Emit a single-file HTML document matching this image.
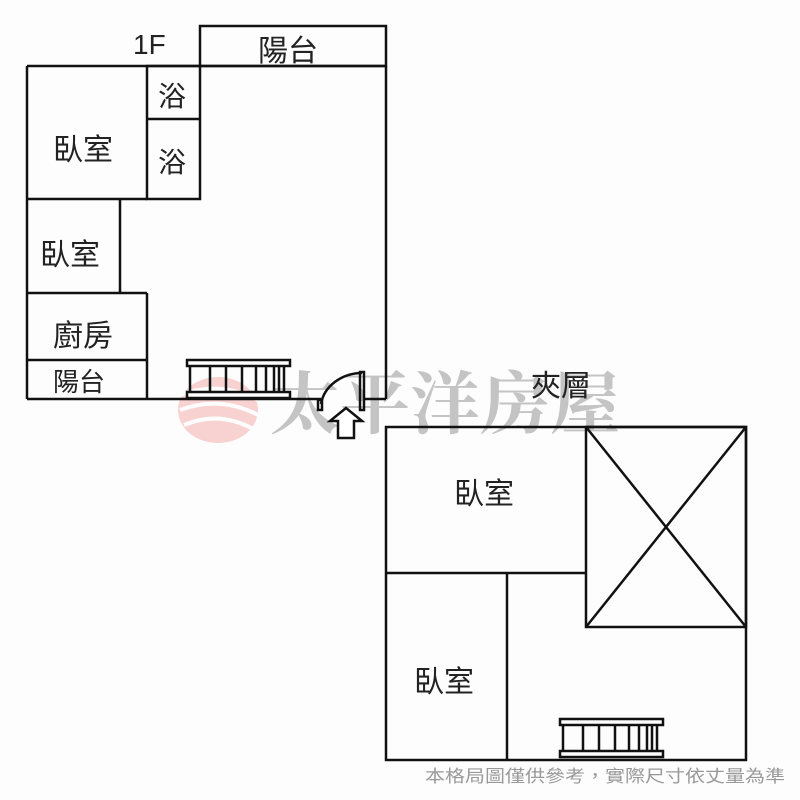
<!DOCTYPE html>
<html><head><meta charset="utf-8"><style>
html,body{margin:0;padding:0;background:#fdfdfd;}
svg{display:block;}
text{font-family:"Liberation Sans","Noto Sans CJK TC",sans-serif;fill:#222;}
</style></head><body>
<svg width="800" height="800" viewBox="0 0 800 800" xmlns="http://www.w3.org/2000/svg">
<rect width="800" height="800" fill="#fdfdfd"/>
<defs>
<g id="st">
<rect x="0" y="0" width="103" height="6" fill="#fff" stroke="#111" stroke-width="2.5"/>
<rect x="0" y="32" width="103" height="6" fill="#fff" stroke="#111" stroke-width="2.5"/>
<g stroke="#111" stroke-width="2.5">
<line x1="3" y1="6" x2="3" y2="32"/><line x1="23" y1="6" x2="23" y2="32"/><line x1="39" y1="6" x2="39" y2="32"/><line x1="55" y1="6" x2="55" y2="32"/><line x1="69" y1="6" x2="69" y2="32"/><line x1="79" y1="6" x2="79" y2="32"/><line x1="87" y1="6" x2="87" y2="32"/><line x1="92" y1="6" x2="92" y2="32"/><line x1="97" y1="6" x2="97" y2="32"/>
</g>
</g>
</defs>
<g opacity="0.35">
<ellipse cx="218" cy="410" rx="40" ry="33" fill="#f08080"/>
<path d="M180 395 Q220 380 258 400 M180 410 Q220 395 258 415 M184 425 Q220 410 255 430" stroke="#fff" stroke-width="4" fill="none"/>
</g>
<text x="270" y="428" font-size="68" font-weight="bold" textLength="350" lengthAdjust="spacingAndGlyphs" style="fill:#c4c4c4;font-family:'Noto Serif CJK SC',serif">太平洋房屋</text>
<g fill="none" stroke="#111" stroke-width="2.5">
<rect x="200" y="26" width="186" height="40"/>
<line x1="27" y1="66" x2="386" y2="66"/>
<line x1="386" y1="66" x2="386" y2="399"/>
<line x1="386" y1="399" x2="365" y2="399"/>
<line x1="27" y1="66" x2="27" y2="399"/>
<line x1="27" y1="399" x2="321" y2="399"/>
<rect x="147" y="66" width="53" height="133"/>
<line x1="147" y1="119" x2="200" y2="119"/>
<line x1="27" y1="199" x2="147" y2="199"/>
<line x1="120" y1="199" x2="120" y2="293"/>
<line x1="27" y1="293" x2="147" y2="293"/>
<line x1="147" y1="293" x2="147" y2="399"/>
<line x1="27" y1="360" x2="147" y2="360"/>
<rect x="360" y="372" width="4" height="38"/>
<path d="M362 373 A42 36 0 0 0 321 404"/>
<rect x="318" y="400" width="4" height="10"/>
<rect x="386" y="427" width="360" height="333"/>
<rect x="586" y="427" width="160" height="200"/>
<line x1="586" y1="427" x2="746" y2="627"/>
<line x1="746" y1="427" x2="586" y2="627"/>
<line x1="386" y1="573" x2="586" y2="573"/>
<line x1="507" y1="573" x2="507" y2="760"/>
</g>
<path d="M338 438 L338 421 L330 421 L346 408 L362 421 L354 421 L354 438 Z" fill="#fff" stroke="#111" stroke-width="2.5"/>
<use href="#st" x="187" y="360"/>
<use href="#st" x="560" y="719"/>
<g font-size="30">
<text x="133" y="54" font-size="28">1F</text>
<text x="258" y="61">陽台</text>
<text x="158" y="106" font-size="28">浴</text>
<text x="158" y="172" font-size="28">浴</text>
<text x="53" y="160">臥室</text>
<text x="40" y="265">臥室</text>
<text x="53" y="346">廚房</text>
<text x="53" y="391" font-size="26">陽台</text>
<text x="531" y="396">夾層</text>
<text x="454" y="504">臥室</text>
<text x="414" y="692">臥室</text>
</g>
<text x="425" y="782" font-size="17" textLength="360" lengthAdjust="spacingAndGlyphs" style="fill:#999">本格局圖僅供參考，實際尺寸依丈量為準</text>
</svg>
</body></html>
